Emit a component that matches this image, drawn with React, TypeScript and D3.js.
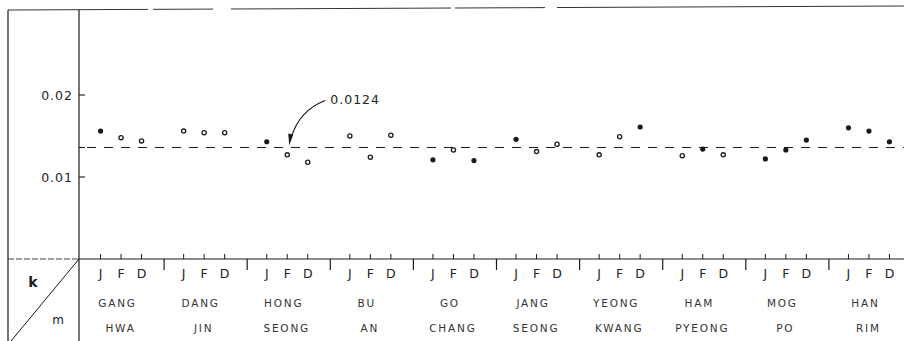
import React from 'react';
import * as d3 from 'd3';

// stations (two-line names) and months
const stationTop = ['GANG', 'DANG', 'HONG', 'BU', 'GO', 'JANG', 'YEONG', 'HAM', 'MOG', 'HAN'];
const stationBottom = ['HWA', 'JIN', 'SEONG', 'AN', 'CHANG', 'SEONG', 'KWANG', 'PYEONG', 'PO', 'RIM'];
const months = ['J', 'F', 'D'];

// k values per month
const kJan = [0.0156, 0.0156, 0.0143, 0.015, 0.0121, 0.0146, 0.0127, 0.0126, 0.0122, 0.016];
const kFeb = [0.0148, 0.0154, 0.0127, 0.0124, 0.0133, 0.0131, 0.0149, 0.0134, 0.0133, 0.0156];
const kDec = [0.0144, 0.0154, 0.0118, 0.0151, 0.012, 0.014, 0.0161, 0.0127, 0.0145, 0.0143];

// filled (1) or open (0) marker
const fillJan = [1, 0, 1, 0, 1, 1, 0, 0, 1, 1];
const fillFeb = [0, 0, 0, 0, 0, 0, 0, 1, 1, 1];
const fillDec = [0, 0, 0, 0, 1, 0, 1, 0, 1, 1];

const yTicks = [0.01, 0.02];
const yTickLabels = ['0.01', '0.02'];
const meanLevel = 0.0136;
const meanLabel = '0.0124';

const W = 904;
const H = 341;
const ink = '#1a1a1a';
const font = '"DejaVu Sans", "Liberation Sans", sans-serif';

export default function App() {
  const frameLeft = 8;
  const frameTop = 10;
  const axisX = 79;
  const axisY = 259;

  const y = d3.scaleLinear().domain([0, 0.02]).range([axisY, 95]);
  const x = d3.scaleBand().domain(stationTop).range([79, 910]);
  const m = d3.scalePoint().domain(months).range([-20, 21]);
  const cx = (s: string) => (x(s) as number) + x.bandwidth() / 2;

  const series = [kJan, kFeb, kDec];
  const fills = [fillJan, fillFeb, fillDec];
  const points = stationTop.flatMap((s, i) =>
    months.map((mo, j) => ({
      x: cx(s) + (m(mo) as number),
      y: y(series[j][i]),
      filled: fills[j][i] === 1,
    }))
  );

  const tipX = cx('HONG') + (m('F') as number) + 2;
  const tipY = y(meanLevel) - 2;
  const arrowPath = d3.path();
  arrowPath.moveTo(tipX + 36, tipY - 45);
  arrowPath.quadraticCurveTo(tipX + 10, tipY - 35, tipX + 2, tipY - 8);

  return (
    <svg
      width={W}
      height={H}
      style={{ position: 'absolute', left: 0, top: 0, background: '#fff' }}
      fontFamily={font}
    >
      {/* frame */}
      <line x1={frameLeft} y1={frameTop} x2={W} y2={frameTop - 4} stroke="#333" strokeWidth={1} strokeDasharray="140,5,60,18,220,4,90,12,400,0" />
      <line x1={frameLeft} y1={frameTop} x2={frameLeft} y2={H} stroke={ink} strokeWidth={1.2} />
      <line x1={axisX} y1={frameTop} x2={axisX} y2={H} stroke={ink} strokeWidth={1.2} />
      <line x1={frameLeft} y1={axisY} x2={axisX} y2={axisY} stroke="#444" strokeWidth={1.1} strokeDasharray="6,2" />
      <line x1={axisX} y1={axisY} x2={W} y2={axisY} stroke={ink} strokeWidth={1.2} />
      <line x1={axisX} y1={axisY} x2={frameLeft + 3} y2={H} stroke={ink} strokeWidth={1} />
      <text x={33} y={287} fontSize={14} fontWeight="bold" textAnchor="middle" fill={ink}>k</text>
      <text x={58} y={324} fontSize={12} textAnchor="middle" fill={ink}>m</text>

      {/* y ticks */}
      {yTicks.map((t, i) => (
        <g key={t}>
          <line x1={axisX} x2={axisX + 6} y1={y(t)} y2={y(t)} stroke={ink} strokeWidth={1.1} />
          <text x={73} y={y(t) + 4.5} fontSize={12.5} letterSpacing={1} textAnchor="end" fill="#222">
            {yTickLabels[i]}
          </text>
        </g>
      ))}
      <line x1={axisX} x2={axisX + 6} y1={y(meanLevel)} y2={y(meanLevel)} stroke={ink} strokeWidth={1.1} />

      {/* mean line */}
      <line x1={axisX + 8} x2={W} y1={y(meanLevel)} y2={y(meanLevel)} stroke={ink} strokeWidth={1} strokeDasharray="9,8" />

      {/* annotation */}
      <path d={arrowPath.toString()} fill="none" stroke={ink} strokeWidth={1.1} />
      <path
        d={`M${tipX},${tipY} L${tipX - 1},${tipY - 12} L${tipX + 4},${tipY - 11} Z`}
        fill={ink}
      />
      <text x={tipX + 41} y={104} fontSize={12.5} letterSpacing={1} fill="#222">{meanLabel}</text>

      {/* x axis: separators, month ticks and labels */}
      {stationTop.slice(1).map((s) => (
        <line key={'sep' + s} x1={(x(s) as number) + 2} x2={(x(s) as number) + 2} y1={axisY} y2={axisY + 11} stroke={ink} strokeWidth={1.2} />
      ))}
      {stationTop.map((s, i) => (
        <g key={s}>
          {months.map((mo) => (
            <g key={mo}>
              <line x1={cx(s) + (m(mo) as number)} x2={cx(s) + (m(mo) as number)} y1={axisY - 5} y2={axisY} stroke={ink} strokeWidth={1} />
              <text x={cx(s) + (m(mo) as number)} y={278} fontSize={12.5} textAnchor="middle" fill="#222">{mo}</text>
            </g>
          ))}
          <text x={cx(s) - 3} y={307} fontSize={10.5} letterSpacing={1.8} textAnchor="middle" fill="#333">{stationTop[i]}</text>
          <text x={cx(s)} y={332} fontSize={10.5} letterSpacing={1.8} textAnchor="middle" fill="#333">{stationBottom[i]}</text>
        </g>
      ))}

      {/* points */}
      {points.map((p, i) =>
        p.filled ? (
          <circle key={i} cx={p.x} cy={p.y} r={2.6} fill={ink} />
        ) : (
          <circle key={i} cx={p.x} cy={p.y} r={2.1} fill="#fff" stroke={ink} strokeWidth={1.3} />
        )
      )}
    </svg>
  );
}
